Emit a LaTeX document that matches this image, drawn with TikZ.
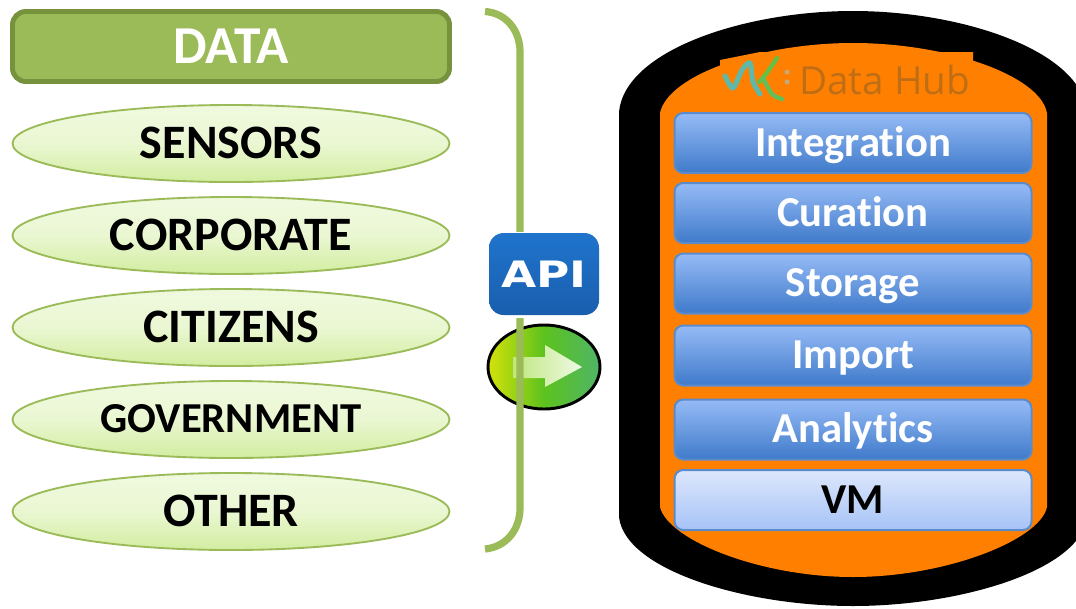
\documentclass[tikz,border=0pt]{standalone}
\usepackage{fontspec}
\usepackage{graphicx}
\setmainfont{Carlito}[Ligatures=NoCommon]
\newfontfamily\hubfont{Open Sans}
\newfontfamily\apifont{DejaVu Sans}
\usetikzlibrary{shapes.geometric}
\newcommand{\capc}[1]{\raisebox{-0.315em}[0pt][0pt]{#1}}
\definecolor{brgreen}{HTML}{9BBB59}
\definecolor{darkgreen}{HTML}{76923C}
\definecolor{hubor}{HTML}{FF8000}
\definecolor{srctop}{HTML}{F0F9DF}
\definecolor{srcmid}{HTML}{EAF7D2}
\definecolor{srcbot}{HTML}{D2EDA0}
\definecolor{layerline}{HTML}{5B8BCB}
\definecolor{layertop}{HTML}{96BBF6}
\definecolor{layermid}{HTML}{78A3E6}
\definecolor{layerbot}{HTML}{3F7ACA}
\definecolor{vmtop}{HTML}{DDE7FB}
\definecolor{vmmid}{HTML}{C6D7F9}
\definecolor{vmbot}{HTML}{A6C3F7}
\definecolor{apitop}{HTML}{1F74CC}
\definecolor{apibot}{HTML}{1A5EAE}
\definecolor{hubtext}{HTML}{C06E16}
\definecolor{logoteal}{HTML}{5FB8A8}
\definecolor{logogreen}{HTML}{62C045}
\definecolor{logodot}{HTML}{C9A878}
\definecolor{goleft}{HTML}{D4E20A}
\definecolor{gomid}{HTML}{5CC21E}
\definecolor{goright}{HTML}{4FB566}
\definecolor{arrowl}{HTML}{BFE77E}
\definecolor{arrowr}{HTML}{EFF9E6}
\tikzset{
  fs/.style={font=\fontsize{#1}{#1}\selectfont\bfseries},
  sizepx/.style 2 args={minimum width={#1*0.75pt},minimum height={#2*0.75pt},inner sep=0pt,outer sep=0pt},
  source/.style={ellipse,sizepx={437}{77},draw=brgreen,line width=1.4pt,top color=srctop,bottom color=srcbot,middle color=srcmid,text=black},
  layerbox/.style={rectangle,rounded corners=6.5pt,sizepx={357}{60},draw=layerline,line width=1.5pt,top color=layertop,middle color=layermid,bottom color=layerbot,text=white,fs=32},
}
\begin{document}
\begin{tikzpicture}[x=0.75pt,y=-0.75pt]
\clip (0,0) rectangle (1076,608);
\fill[white] (0,0) rectangle (1076,608);

% data column
\node[rectangle,rounded corners=10pt,sizepx={437}{70},fill=brgreen,draw=darkgreen,line width=3.7pt,text=white,fs=40] (data) at (231,46.5) {\capc{DATA}};
\node[source,fs=36] (sensors) at (231,143.5) {\capc{SENSORS}};
\node[source,fs=36] (corporate) at (231,235.5) {\capc{CORPORATE}};
\node[source,fs=36] (citizens) at (231,327.5) {\capc{CITIZENS}};
\node[source,fs=32] (government) at (231,419.5) {\capc{GOVERNMENT}};
\node[source,fs=36] (other) at (231,511.5) {\capc{OTHER}};

% right can
\fill[black] (619,112) .. controls (625,50) and (745,11) .. (853,11)
  .. controls (961,11) and (1081,50) .. (1087,112) -- (1087,517)
  .. controls (1081,570) and (961,606) .. (853,606)
  .. controls (745,606) and (625,570) .. (619,517) -- cycle;
\fill[hubor] (660,113) .. controls (668,75) and (760,43) .. (853,43)
  .. controls (946,43) and (1040,75) .. (1047,113) -- (1047,507)
  .. controls (1040,540) and (946,577) .. (853,577)
  .. controls (760,577) and (668,540) .. (660,507) -- cycle;
\fill[hubor] (720,60) -- (760,52) -- (973,52) -- (973,100) -- (720,100) -- cycle;

% logo
\draw[line width=3.8pt,color=logoteal,line cap=round,line join=round]
  plot[smooth] coordinates {(725,76) (733,88) (742,70) (750,63) (753,82) (760,94)};
\draw[line width=3.2pt,color=logogreen,line cap=round,line join=round]
  plot[smooth] coordinates {(759,82) (766,74) (777,58)};
\draw[line width=3.2pt,color=logogreen!80!logoteal,line cap=round,line join=round]
  plot[smooth] coordinates {(763,78) (772,94) (782,99)};
\fill[logodot] (787,72) circle (2.5) (787,82) circle (2.5);
\node[font=\hubfont\fontsize{29}{29}\selectfont,text=hubtext,anchor=west,inner sep=0pt] (hub) at (799,80) {Data Hub};

% layers
\node[layerbox] (integration) at (853,143) {\capc{Integration}};
\node[layerbox] (curation) at (853,213) {\capc{Curation}};
\node[layerbox] (storage) at (853,283.5) {\capc{Storage}};
\node[layerbox] (import) at (853,355.5) {\capc{Import}};
\node[layerbox] (analytics) at (853,429.5) {\capc{Analytics}};
\node[layerbox,top color=vmtop,middle color=vmmid,bottom color=vmbot,text=black] (vm) at (853,500) {\capc{VM}};

% green arrow button
\node[ellipse,sizepx={112}{84},draw=black,line width=2.2pt,left color=goleft,right color=goright,middle color=gomid] (go) at (544,367) {};
\shade[left color=arrowl,right color=arrowr] (513,357) -- (545,357) -- (545,345) -- (582,367) -- (545,387) -- (545,378) -- (513,378) -- cycle;

% bracket
\draw[brgreen,line width=5.4pt] (485,11.5) .. controls (506,13) and (520,30) .. (520,52) -- (520,508) .. controls (520,530) and (506,547) .. (485,549);

% API badge
\fill[white] (486,232) rectangle (601,318);
\node[rectangle,rounded corners=11pt,sizepx={110}{82},top color=apitop,bottom color=apibot,text=white,font=\apifont\fontsize{31}{31}\selectfont\bfseries] (api) at (544,274) {\scalebox{1.1}[0.88]{API}};
\end{tikzpicture}
\end{document}
